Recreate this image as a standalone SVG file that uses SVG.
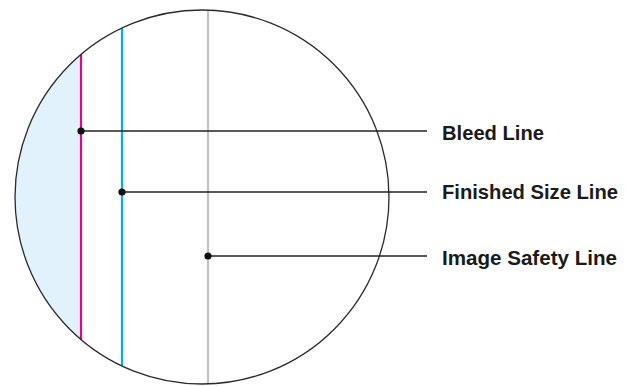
<svg xmlns="http://www.w3.org/2000/svg" width="636" height="386" viewBox="0 0 636 386">
<style>
.lbl{font-family:"Liberation Sans",Arial,sans-serif;font-weight:bold;font-size:21px;fill:#1a1a1a}
.conn{stroke:#222;stroke-width:1.4;fill:none}
.dot{fill:#111}
</style>
<defs>
<clipPath id="c"><circle cx="202" cy="197" r="187"/></clipPath>
</defs>
<rect width="636" height="386" fill="#fff"/>
<g id="circle">
<circle cx="202" cy="197" r="187" fill="#fff"/>
<rect x="0" y="0" width="81" height="386" fill="#e1f2fc" clip-path="url(#c)"/>
<g clip-path="url(#c)">
<line id="bleed-line" x1="81" y1="0" x2="81" y2="386" stroke="#ec008c" stroke-width="2.2"/>
<line id="finished-line" x1="122" y1="0" x2="122" y2="386" stroke="#00aeef" stroke-width="2.2"/>
<line id="safety-line" x1="208" y1="0" x2="208" y2="386" stroke="#c2c2c4" stroke-width="2.2"/>
</g>
<circle cx="202" cy="197" r="187" fill="none" stroke="#2b2b2b" stroke-width="1.3"/>
</g>
<g id="connectors">
<line class="conn" x1="81" y1="131" x2="427" y2="131"/>
<line class="conn" x1="122" y1="192" x2="427" y2="192"/>
<line class="conn" x1="208" y1="256" x2="427" y2="256"/>
<circle class="dot" cx="81" cy="131" r="3.6"/>
<circle class="dot" cx="122" cy="192" r="3.6"/>
<circle class="dot" cx="208" cy="256" r="3.6"/>
</g>
<g id="label-bleed"><text class="lbl" x="442" y="140" textLength="102" lengthAdjust="spacingAndGlyphs">Bleed Line</text></g>
<g id="label-finished"><text class="lbl" x="442" y="199" textLength="176" lengthAdjust="spacingAndGlyphs">Finished Size Line</text></g>
<g id="label-safety"><text class="lbl" x="442" y="265" textLength="175" lengthAdjust="spacingAndGlyphs">Image Safety Line</text></g>
</svg>
